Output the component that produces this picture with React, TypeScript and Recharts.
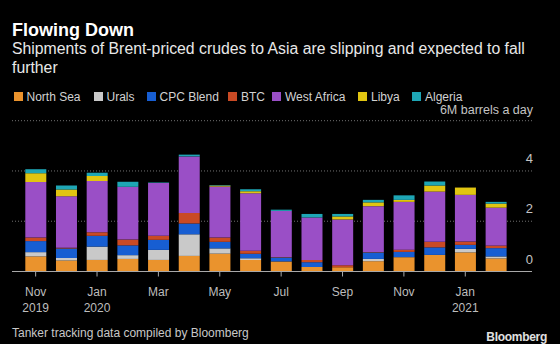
import { BarChart, Bar, XAxis, YAxis, CartesianGrid } from 'recharts'

// monthly shipments to Asia, million barrels a day
const MONTHS = [
  'Nov 2019', 'Dec 2019', 'Jan 2020', 'Feb 2020', 'Mar 2020', 'Apr 2020', 'May 2020', 'Jun 2020',
  'Jul 2020', 'Aug 2020', 'Sep 2020', 'Oct 2020', 'Nov 2020', 'Dec 2020', 'Jan 2021', 'Feb 2021',
]
const NORTH_SEA = [0.6, 0.44, 0.46, 0.5, 0.46, 0.62, 0.71, 0.46, 0.4, 0.18, 0.17, 0.41, 0.57, 0.66, 0.76, 0.52]
const URALS = [0.17, 0.1, 0.53, 0.15, 0.4, 0.86, 0.21, 0.07, 0, 0, 0, 0.09, 0, 0, 0.14, 0.08]
const CPC_BLEND = [0.44, 0.38, 0.43, 0.39, 0.4, 0.43, 0.26, 0.18, 0.16, 0.19, 0, 0.26, 0.21, 0.3, 0.16, 0.33]
const BTC = [0.14, 0.02, 0.14, 0.23, 0.16, 0.42, 0.17, 0.12, 0.02, 0.09, 0.08, 0.02, 0.09, 0.22, 0.13, 0.1]
const WEST_AFRICA = [2.21, 2.05, 2.04, 2.1, 2.1, 2.25, 2.03, 2.28, 1.83, 1.69, 1.82, 1.82, 1.9, 2.0, 1.86, 1.51]
const LIBYA = [0.35, 0.27, 0.2, 0, 0, 0, 0.04, 0.08, 0, 0, 0.12, 0.15, 0.08, 0.24, 0.29, 0.16]
const ALGERIA = [0.16, 0.16, 0.13, 0.2, 0.02, 0.07, 0.02, 0.08, 0.05, 0.14, 0.1, 0.1, 0.18, 0.16, 0, 0.07]
const Y_TICKS = [0, 2, 4, 6]

const SERIES = [
  { key: 'North Sea', values: NORTH_SEA, color: '#ea932d' },
  { key: 'Urals', values: URALS, color: '#c9c9c9' },
  { key: 'CPC Blend', values: CPC_BLEND, color: '#175ed2' },
  { key: 'BTC', values: BTC, color: '#c94a24' },
  { key: 'West Africa', values: WEST_AFRICA, color: '#9a4fc6' },
  { key: 'Libya', values: LIBYA, color: '#e1c511' },
  { key: 'Algeria', values: ALGERIA, color: '#1ea6b5' },
]

const data = MONTHS.map((m, i) => {
  const row: any = { month: m }
  SERIES.forEach(s => { row[s.key] = s.values[i] })
  return row
})

// legend item left edges (square)
const LEGEND_X = [13.5, 93.5, 146.5, 228, 272, 358, 412]

const FONT = '"Liberation Sans", Arial, sans-serif'

function MonthTick({ x, y, payload }: any) {
  const [mon, yr] = String(payload.value).split(' ')
  const showYear = payload.value === MONTHS[0] || mon === 'Jan'
  return (
    <g>
      <text x={x} y={y + 17} textAnchor="middle" fill="#bdbdbd" fontSize={12} fontFamily={FONT}>{mon}</text>
      {showYear && (
        <text x={x} y={y + 33} textAnchor="middle" fill="#bdbdbd" fontSize={12} fontFamily={FONT}>{yr}</text>
      )}
    </g>
  )
}

function ValueTick({ x, y, payload }: any) {
  const top = payload.value === 6
  return (
    <text x={x + 1} y={top ? y - 7 : y - 8} textAnchor="end" fill="#c4c4c4" fontSize={top ? 12.5 : 13} fontFamily={FONT}>
      {top ? '6M barrels a day' : String(payload.value)}
    </text>
  )
}

export default function App() {
  return (
    <div style={{ position: 'fixed', left: 0, top: 0, width: 560, height: 344, background: '#000', fontFamily: FONT, overflow: 'hidden' }}>
      <div style={{ position: 'absolute', left: 12, top: 20, fontSize: 18, lineHeight: '20px', fontWeight: 700, color: '#fff' }}>
        Flowing Down
      </div>
      <div style={{ position: 'absolute', left: 12, top: 38.5, width: 546, fontSize: 15.8, lineHeight: '19px', color: '#e8e8e8', whiteSpace: 'nowrap' }}>
        Shipments of Brent-priced crudes to Asia are slipping and expected to fall<br />further
      </div>
      {SERIES.map((s, i) => (
        <div key={s.key} style={{ position: 'absolute', left: LEGEND_X[i], top: 89.5, height: 14, display: 'flex', alignItems: 'center', fontSize: 12, lineHeight: '14px', color: '#d2d2d2', whiteSpace: 'nowrap' }}>
          <span style={{ width: 9, height: 9, background: s.color, marginRight: 4, display: 'inline-block' }} />
          {s.key}
        </div>
      ))}
      <div style={{ position: 'absolute', left: 0, top: 0 }}>
        <BarChart width={560} height={344} data={data} margin={{ top: 120.7, right: 0, bottom: 32.5, left: 12 }}>
          <CartesianGrid vertical={false} stroke="#707070" strokeDasharray="1 2" />
          <XAxis dataKey="month" interval={1} height={40} tickSize={5} tickMargin={2}
            stroke="#a8a8a8" tick={<MonthTick />} padding={{ left: 8.3, right: 20.7 }} />
          <YAxis orientation="right" width={28} domain={[0, 6]} ticks={Y_TICKS} tickSize={0} tickMargin={0}
            axisLine={false} tickLine={false} tick={<ValueTick />} />
          {SERIES.map(s => (
            <Bar key={s.key} dataKey={s.key} stackId="a" fill={s.color} barSize={21} isAnimationActive={false} />
          ))}
        </BarChart>
      </div>
      <div style={{ position: 'absolute', left: 12, top: 325.5, fontSize: 12, lineHeight: '14px', color: '#c8c8c8' }}>
        Tanker tracking data compiled by Bloomberg
      </div>
      <div style={{ position: 'absolute', right: 13, top: 329.5, fontSize: 12, lineHeight: '14px', fontWeight: 700, color: '#e0e0e0', letterSpacing: -0.3 }}>
        Bloomberg
      </div>
    </div>
  )
}
